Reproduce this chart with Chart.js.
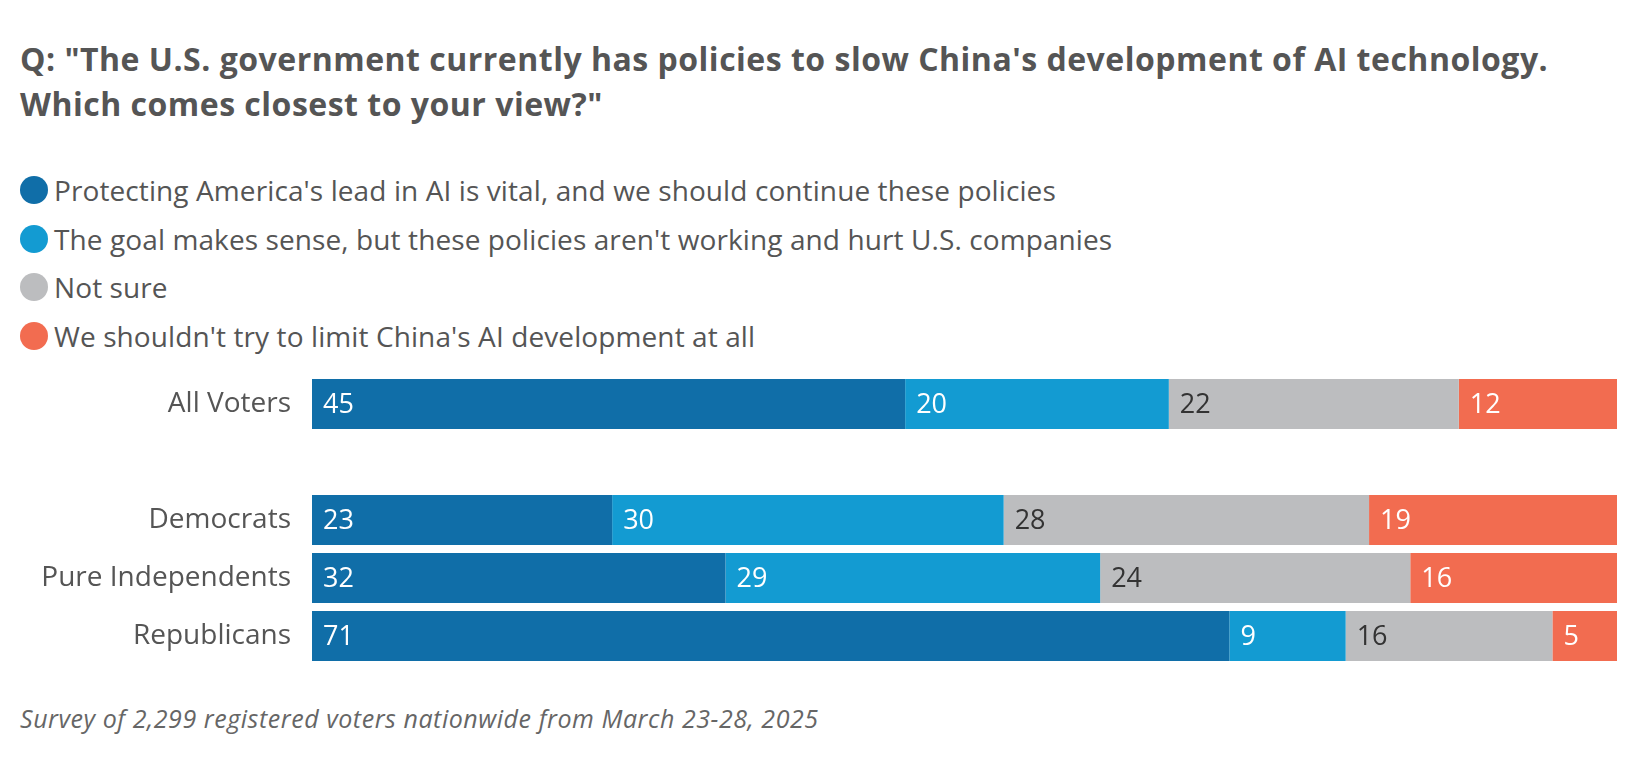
<!DOCTYPE html>
<html>
<head>
<meta charset="utf-8">
<script src="https://cdn.jsdelivr.net/npm/chart.js@4"></script>
<style>
  body { margin: 0; width: 1640px; height: 768px; background: #fff; font-family: "Open Sans", sans-serif; color: #555; position: relative; overflow: hidden; }
  #title { position: absolute; left: 20px; top: 36px; font-size: 32px; font-weight: 700; line-height: 45px; color: #555; margin: 0; letter-spacing: 0.5px; }
  #legend { position: absolute; left: 20px; top: 166px; list-style: none; margin: 0; padding: 0; }
  #legend li { height: 48.5px; display: flex; align-items: center; font-size: 28px; color: #555; white-space: nowrap; letter-spacing: 0.1px; }
  #legend .dot { width: 28px; height: 28px; border-radius: 50%; margin-right: 6px; flex: none; }
  #grafico { position: absolute; left: 0; top: 375px; }
  #note { position: absolute; left: 20px; top: 701px; font-size: 25px; font-style: italic; color: #666; letter-spacing: 0.55px; }
</style>
</head>
<body>
<h1 id="title">Q: "The U.S. government currently has policies to slow China's development of AI technology.<br>Which comes closest to your view?"</h1>
<ul id="legend"></ul>
<canvas id="grafico" width="1640" height="290"></canvas>
<div id="note">Survey of 2,299 registered voters nationwide from March 23-28, 2025</div>
<script>
const grupos = ['All Voters', '', 'Democrats', 'Pure Independents', 'Republicans'];
const respostas = [
    "Protecting America's lead in AI is vital, and we should continue these policies",
    "The goal makes sense, but these policies aren't working and hurt U.S. companies",
    'Not sure',
    "We shouldn't try to limit China's AI development at all",
];
const continuar = [45, null, 23, 32, 71];
const naoFunciona = [20, null, 30, 29, 9];
const naoSei = [22, null, 28, 24, 16];
const naoLimitar = [12, null, 19, 16, 5];

const series = [continuar, naoFunciona, naoSei, naoLimitar];
const cores = ['#106ea8', '#139bd2', '#bcbdbf', '#f26c50'];
const corTexto = ['#fff', '#fff', '#333', '#fff'];

// totals per row, so every bar fills the same width
const totais = grupos.map((g, i) => series.reduce((s, d) => s + (d[i] || 0), 0));

const legenda = document.getElementById('legend');
respostas.forEach((r, i) => {
    const li = document.createElement('li');
    li.innerHTML = '<span class="dot" style="background:' + cores[i] + '"></span>' + r;
    legenda.appendChild(li);
});

const rotulos = {
    id: 'rotulos',
    afterDatasetsDraw(chart) {
        const ctx = chart.ctx;
        ctx.save();
        ctx.font = '27px "Open Sans", sans-serif';
        ctx.textBaseline = 'middle';
        ctx.textAlign = 'left';
        chart.data.datasets.forEach((ds, di) => {
            chart.getDatasetMeta(di).data.forEach((bar, i) => {
                const v = series[di][i];
                if (v == null) return;
                ctx.fillStyle = corTexto[di];
                ctx.fillText(v, bar.base + 11, bar.y + 1);
            });
        });
        ctx.restore();
    }
};

new Chart(document.getElementById('grafico'), {
    type: 'bar',
    data: {
        labels: grupos,
        datasets: series.map((d, i) => ({
            label: respostas[i],
            data: d.map((v, j) => v == null ? null : v / totais[j] * 100),
            backgroundColor: cores[i],
            borderWidth: 0,
            categoryPercentage: 1,
            barPercentage: 0.86,
        }))
    },
    options: {
        indexAxis: 'y',
        responsive: false,
        animation: false,
        devicePixelRatio: 1,
        layout: { padding: { left: 0, right: 23, top: 0, bottom: 0 } },
        plugins: { legend: { display: false }, tooltip: { enabled: false } },
        scales: {
            x: { stacked: true, min: 0, max: 100, display: false },
            y: {
                stacked: true,
                grid: { display: false, drawTicks: false },
                border: { display: false },
                ticks: { color: '#555', font: { family: 'Open Sans', size: 28 }, padding: 21 },
                afterFit(scale) {
                    scale.width = 312;
                    scale.paddingTop = 0;
                    scale.paddingBottom = 0;
                }
            }
        }
    },
    plugins: [rotulos]
});
</script>
</body>
</html>
